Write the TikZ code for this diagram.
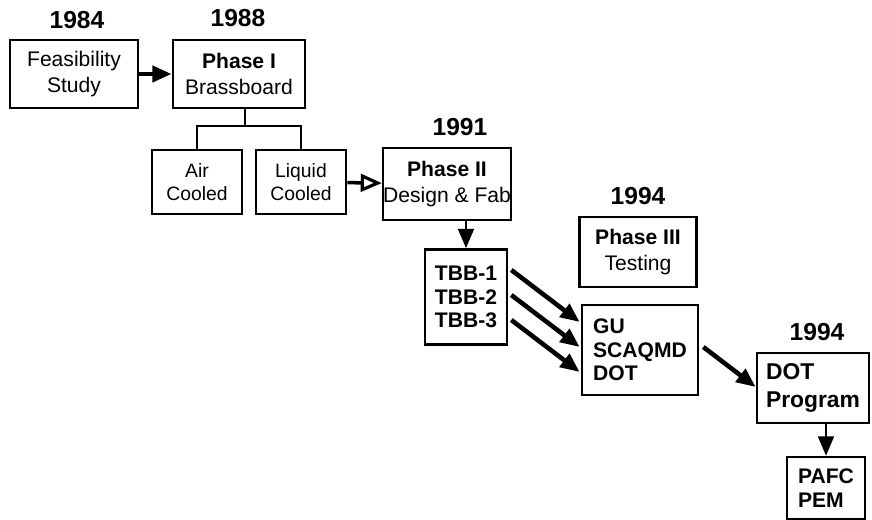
\documentclass[tikz,border=0pt]{standalone}
\usepackage{fontspec}
\setmainfont{Liberation Sans}
\usetikzlibrary{arrows.meta,calc}

\begin{document}
\begin{tikzpicture}[x=0.02cm, y=-0.02cm, >={Triangle[length=11pt,width=9pt]},
    box/.style 2 args={draw, line width=1.5pt, minimum width=#1*0.02cm, minimum height=#2*0.02cm,
        inner sep=0pt, align=center, font=\fontsize{12}{15}\selectfont},
    listbox/.style 2 args={box={#1}{#2}, align=left, font=\fontsize{12}{13.5}\selectfont\bfseries},
    year/.style={font=\fontsize{14}{16}\selectfont\bfseries},
    flow/.style={->, line width=2.6pt},
    branch/.style={line width=1.1pt}]
    \useasboundingbox (0,0) rectangle (872,520);

    % Boxes
    \node [box={128}{68}] (feas) at (74,74) {Feasibility\\Study};
    \node [box={132}{68}] (ph1) at (239,74) {\textbf{Phase I}\\Brassboard};
    \node [box={90}{64}, font=\fontsize{11}{13}\selectfont] (air) at (197,182) {Air\\Cooled};
    \node [box={90}{64}, font=\fontsize{11}{13}\selectfont] (liquid) at (301,182) {Liquid\\Cooled};
    \node [box={127}{72}] (ph2) at (447,184) {\textbf{Phase II}\\Design \& Fab};
    \node [listbox={82}{95}] (tbb) at (466,297) {TBB-1\\TBB-2\\TBB-3};
    \node [box={117}{70}] (ph3) at (638,252) {\textbf{Phase III}\\Testing};
    \node [listbox={116}{90}] (gu) at (640,350) {GU\\SCAQMD\\DOT};
    \node [listbox={112}{70}, font=\fontsize{13}{16}\selectfont\bfseries] (dotp) at (813,388) {DOT\\Program};
    \node [listbox={78}{62}] (pafc) at (826,488) {PAFC\\PEM};

    % Years
    \node [year] (y1984) at (77,20) {1984};
    \node [year] (y1988) at (238,18) {1988};
    \node [year] (y1991) at (460,127) {1991};
    \node [year] (y1994a) at (638,196) {1994};
    \node [year] (y1994b) at (817,332) {1994};

    % Connectors
    \draw [flow] (feas) -- (ph1);
    \draw [branch] ($(ph1.south)+(6,0)$) -- ++(0,17) coordinate (fork);
    \draw [branch] (fork) -| (air.north);
    \draw [branch] (fork) -| (liquid.north);
    \draw [line width=2pt, -{Triangle[open, length=12pt, width=10pt, line width=1.8pt]}] (liquid) -- (ph2);
    \draw [->, line width=1.3pt] (tbb.north |- ph2.south) -- (tbb.north);
    \foreach \d in {-25,0,25}
        \draw [flow] ($(tbb.east)+(3,\d-2)$) -- ($(gu.west)+(-1,\d-3)$);
    \draw [flow] ($(gu.east)+(4,-3)$) -- ($(dotp.west)+(0,-1)$);
    \draw [->, line width=1.3pt] (pafc.north |- dotp.south) -- (pafc.north);
\end{tikzpicture}
\end{document}
